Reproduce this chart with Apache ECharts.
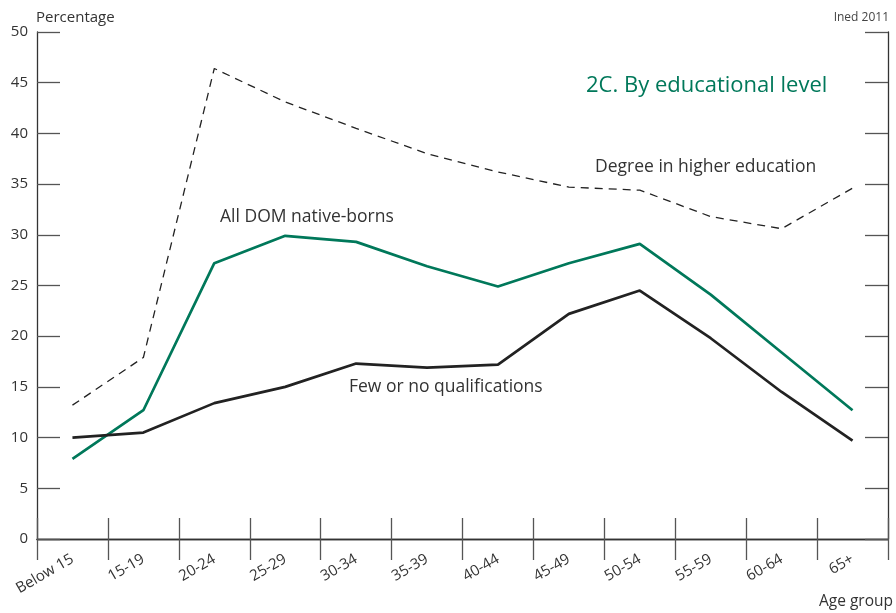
<!DOCTYPE html>
<html><head><meta charset="utf-8">
<script src="https://cdn.jsdelivr.net/npm/echarts@6/dist/echarts.min.js"></script>
<style>html,body{margin:0;padding:0;background:#fff}#c{width:896px;height:613px}</style>
</head><body><div id="c"></div>
<script>
const categories = ['Below 15','15-19','20-24','25-29','30-34','35-39','40-44','45-49','50-54','55-59','60-64','65+'];
const degree = [13.2, 17.9, 46.4, 43.1, 40.5, 38.0, 36.2, 34.7, 34.4, 31.8, 30.6, 34.6];
const allDom = [7.9, 12.7, 27.2, 29.9, 29.3, 26.9, 24.9, 27.2, 29.1, 24.1, 18.4, 12.7];
const fewQual = [10.0, 10.5, 13.4, 15.0, 17.3, 16.9, 17.2, 22.2, 24.5, 19.8, 14.5, 9.7];
const yTicks = [0, 50, 5];

const font = '"Open Sans", sans-serif';
const green = '#00785a';
const chart = echarts.init(document.getElementById('c'), null, {renderer: 'canvas'});
const axisLine = {show: true, lineStyle: {color: '#333', width: 1.3}};
const tickStyle = {color: '#555', width: 1.3};
chart.setOption({
  animation: false,
  textStyle: {fontFamily: font},
  grid: {left: 37, right: 8, top: 32, bottom: 74, containLabel: false},
  xAxis: [{
    type: 'category', data: categories, boundaryGap: true, position: 'bottom',
    axisLine: axisLine,
    axisTick: {show: true, inside: true, length: 21, lineStyle: tickStyle, alignWithLabel: false},
    axisLabel: {rotate: 30, color: '#333', fontSize: 15, fontFamily: font, margin: 19, interval: 0},
    splitLine: {show: false}
  }, {
    type: 'category', data: categories, boundaryGap: true, position: 'top',
    axisLine: axisLine,
    axisTick: {show: true, inside: true, length: 21, lineStyle: tickStyle},
    axisLabel: {show: false}, splitLine: {show: false}
  }],
  yAxis: [{
    type: 'value', min: yTicks[0], max: yTicks[1], interval: yTicks[2], position: 'left',
    axisLine: axisLine,
    axisTick: {show: true, inside: true, length: 23, lineStyle: tickStyle},
    axisLabel: {color: '#333', fontSize: 15, fontFamily: font, margin: 9},
    splitLine: {show: false}
  }, {
    type: 'value', min: yTicks[0], max: yTicks[1], interval: yTicks[2], position: 'right',
    axisLine: axisLine,
    axisTick: {show: true, inside: true, length: 23, lineStyle: tickStyle},
    axisLabel: {show: false}, splitLine: {show: false}
  }],
  series: [
    {type: 'line', data: degree, symbol: 'none', lineStyle: {color: '#222', width: 1.3, type: [8, 6]}},
    {type: 'line', data: allDom, symbol: 'none', lineStyle: {color: green, width: 2.7}},
    {type: 'line', data: fewQual, symbol: 'none', lineStyle: {color: '#222', width: 2.7}}
  ],
  graphic: [
    {type: 'text', left: 36, top: 10, style: {text: 'Percentage', fill: '#333', font: '15px ' + font}},
    {type: 'text', right: 7, top: 12, style: {text: 'Ined 2011', fill: '#444', font: '12px ' + font}},
    {type: 'text', right: 3, top: 594, style: {text: 'Age group', fill: '#333', font: '15.5px ' + font}},
    {type: 'text', left: 586, top: 75, style: {text: '2C. By educational level', fill: green, font: '22px ' + font}},
    {type: 'text', left: 595, top: 158, style: {text: 'Degree in higher education', fill: '#333', font: '17.5px ' + font}},
    {type: 'text', left: 220, top: 208, style: {text: 'All DOM native-borns', fill: '#333', font: '17.5px ' + font}},
    {type: 'text', left: 349, top: 378, style: {text: 'Few or no qualifications', fill: '#333', font: '17.5px ' + font}}
  ]
});
</script></body></html>
